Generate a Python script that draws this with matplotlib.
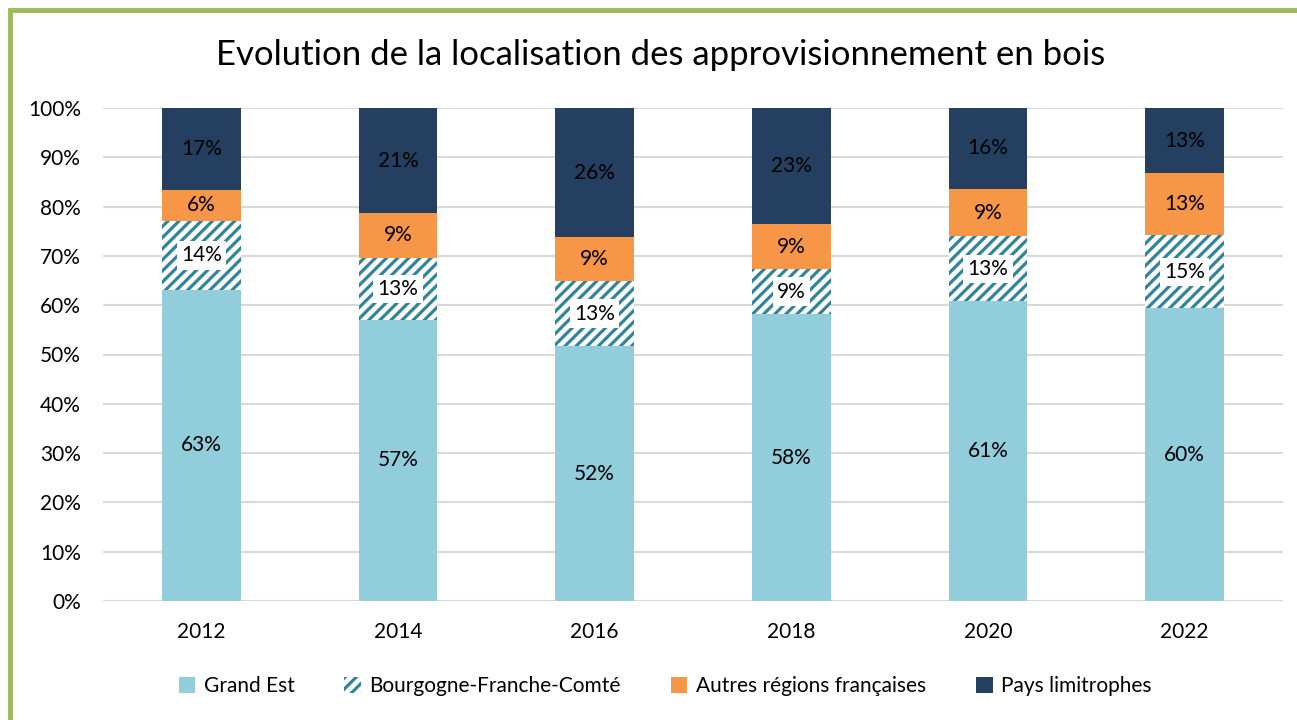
import matplotlib
matplotlib.use("Agg")
import matplotlib.pyplot as plt
from matplotlib.patches import Rectangle
import numpy as np

years = ["2012", "2014", "2016", "2018", "2020", "2022"]
grand_est = [63.1, 57.0, 51.7, 58.2, 60.8, 59.4]
bfc = [14.0, 12.6, 13.2, 9.1, 13.2, 14.8]
autres = [6.3, 9.1, 8.9, 9.2, 9.6, 12.6]
pays = [16.6, 21.3, 26.2, 23.5, 16.4, 13.2]
labels_ge = ["63%", "57%", "52%", "58%", "61%", "60%"]
labels_bfc = ["14%", "13%", "13%", "9%", "13%", "15%"]
labels_au = ["6%", "9%", "9%", "9%", "9%", "13%"]
labels_pl = ["17%", "21%", "26%", "23%", "16%", "13%"]
series_names = ["Grand Est", "Bourgogne-Franche-Comté", "Autres régions françaises", "Pays limitrophes"]

plt.rcParams['font.family'] = ['Lato', 'DejaVu Sans']
plt.rcParams['hatch.linewidth'] = 2.3
plt.rcParams['hatch.color'] = '#31849B'

fig = plt.figure(figsize=(12.97, 7.2), dpi=100)
ax = fig.add_axes([103/1297, 1-601/720, (1283-103)/1297, (601-108)/720])

x = np.arange(len(years))
w = 0.4
c_ge = '#92CDDC'
c_au = '#F79646'
c_pl = '#243F60'

ge = np.array(grand_est)
bf = np.array(bfc)
au = np.array(autres)
pl = np.array(pays)

b1 = ax.bar(x, ge, w, color=c_ge, label=series_names[0], zorder=3)
b2 = ax.bar(x, bf, w, bottom=ge, facecolor='white', edgecolor='#31849B', linewidth=0,
            hatch='///', label=series_names[1], zorder=3)
b3 = ax.bar(x, au, w, bottom=ge+bf, color=c_au, label=series_names[2], zorder=3)
b4 = ax.bar(x, pl, w, bottom=ge+bf+au, color=c_pl, label=series_names[3], zorder=3)

fs = 15
for i in range(len(years)):
    ax.text(x[i], ge[i]/2, labels_ge[i], ha='center', va='center', fontsize=fs, zorder=5)
    ax.text(x[i], ge[i]+bf[i]/2, labels_bfc[i], ha='center', va='center', fontsize=fs, zorder=5,
            bbox=dict(facecolor='white', edgecolor='none', pad=3))
    ax.text(x[i], ge[i]+bf[i]+au[i]/2, labels_au[i], ha='center', va='center', fontsize=fs, zorder=5)
    ax.text(x[i], ge[i]+bf[i]+au[i]+pl[i]/2, labels_pl[i], ha='center', va='center', fontsize=fs, color='black', zorder=5)

ax.set_xlim(-0.5, len(years)-0.5)
ax.set_ylim(0, 100)
ax.set_yticks(np.arange(0, 101, 10))
ax.set_yticklabels([f"{v}%" for v in range(0, 101, 10)], fontsize=fs)
ax.set_xticks(x)
ax.set_xticklabels(years, fontsize=fs)
ax.tick_params(axis='both', length=0)
ax.tick_params(axis='y', pad=16)
ax.tick_params(axis='x', pad=15)
for s in ax.spines.values():
    s.set_visible(False)
ax.grid(axis='y', color='#D9D9D9', linewidth=1.5, zorder=0)
ax.set_axisbelow(True)

fig.text(661/1297, 1-55/720, "Evolution de la localisation des approvisionnement en bois",
         ha='center', va='center', fontsize=25)

fig.legend(handles=[b1, b2, b3, b4], labels=series_names, loc='center',
           bbox_to_anchor=(665/1297, 1-686/720), ncol=4, frameon=False, fontsize=fs,
           handlelength=0.8, handleheight=0.8, handletextpad=0.4, columnspacing=2.4)

# green border (left and top)
fig.patches.append(Rectangle((10/1297, -0.1), 1.2, 1-10/720+0.1, transform=fig.transFigure,
                             fill=False, edgecolor='#9BBB59', linewidth=3.5, zorder=10))

fig.savefig("out.png", dpi=100)
